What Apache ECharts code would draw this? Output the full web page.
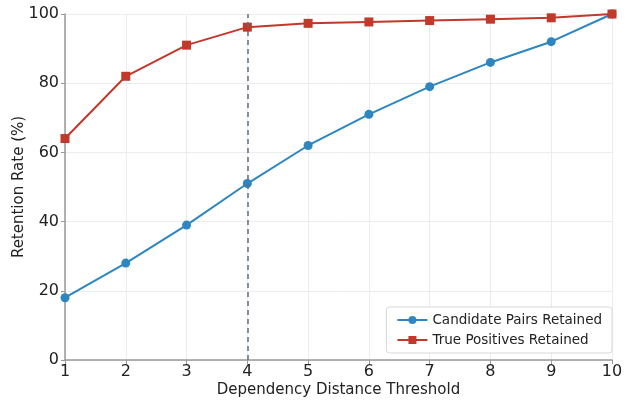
<!DOCTYPE html>
<html lang="en">
<head>
    <meta charset="UTF-8">
    <title>Retention Rate vs Dependency Distance</title>
    <script src="https://cdn.jsdelivr.net/npm/echarts@6/dist/echarts.min.js"></script>
    <style>
        html, body { margin: 0; padding: 0; background: #fff; }
        #chart { width: 626px; height: 401px; }
    </style>
</head>
<body>
<div id="chart"></div>
<script>
    // data
    var thresholds = [1, 2, 3, 4, 5, 6, 7, 8, 9, 10];
    var candidatePairs = [18, 28, 39, 51, 62, 71, 79, 86, 92, 100];
    var truePositives = [64, 82, 91, 96.2, 97.3, 97.7, 98.1, 98.5, 98.9, 100];
    var chosenThreshold = 4;

    var chart = echarts.init(document.getElementById('chart'));
    var font = 'DejaVu Sans';

    function pairs(ys) {
        return thresholds.map(function (x, i) { return [x, ys[i]]; });
    }

    var option = {
        animation: false,
        textStyle: { fontFamily: font },
        grid: { left: 65, right: 14, top: 14, bottom: 41, outerBoundsMode: 'none' },
        legend: {
            right: 14,
            bottom: 48,
            orient: 'vertical',
            backgroundColor: '#fff',
            borderColor: '#d8d8d8',
            borderWidth: 1,
            borderRadius: 3,
            padding: [6, 10, 6, 10],
            itemGap: 6,
            itemWidth: 30,
            itemHeight: 10,
            textStyle: { fontFamily: font, fontSize: 13.5, color: '#222' },
            data: ['Candidate Pairs Retained', 'True Positives Retained']
        },
        xAxis: {
            type: 'value',
            min: 1, max: 10, interval: 1,
            name: 'Dependency Distance Threshold',
            nameLocation: 'middle',
            nameGap: 23,
            nameMoveOverlap: false,
            nameTextStyle: { fontSize: 15, color: '#222' },
            axisLine: { lineStyle: { color: '#999', width: 1.5 } },
            axisTick: { show: true, length: 4, lineStyle: { color: '#999' } },
            axisLabel: { fontSize: 16, color: '#222', margin: 4 },
            splitLine: { show: true, lineStyle: { color: '#ececec' } }
        },
        yAxis: {
            type: 'value',
            min: 0, max: 100, interval: 20,
            name: 'Retention Rate (%)',
            nameLocation: 'middle',
            nameGap: 38,
            nameMoveOverlap: false,
            nameTextStyle: { fontSize: 15, color: '#222' },
            axisLine: { show: true, lineStyle: { color: '#999', width: 1.5 } },
            axisTick: { show: true, length: 4, lineStyle: { color: '#999' } },
            axisLabel: { fontSize: 16, color: '#222', margin: 6 },
            splitLine: { show: true, lineStyle: { color: '#ececec' } }
        },
        series: [
            {
                name: 'Candidate Pairs Retained',
                type: 'line',
                data: pairs(candidatePairs),
                symbol: 'circle',
                symbolSize: 9,
                color: '#2e86c1',
                lineStyle: { width: 2 },
                markLine: {
                    silent: true,
                    symbol: 'none',
                    label: { show: false },
                    lineStyle: { type: [5, 4], color: '#5d6d7e', width: 1.5 },
                    data: [{ xAxis: chosenThreshold }]
                }
            },
            {
                name: 'True Positives Retained',
                type: 'line',
                data: pairs(truePositives),
                symbol: 'rect',
                symbolSize: 9,
                color: '#c0392b',
                lineStyle: { width: 2 }
            }
        ]
    };

    chart.setOption(option);
</script>
</body>
</html>
